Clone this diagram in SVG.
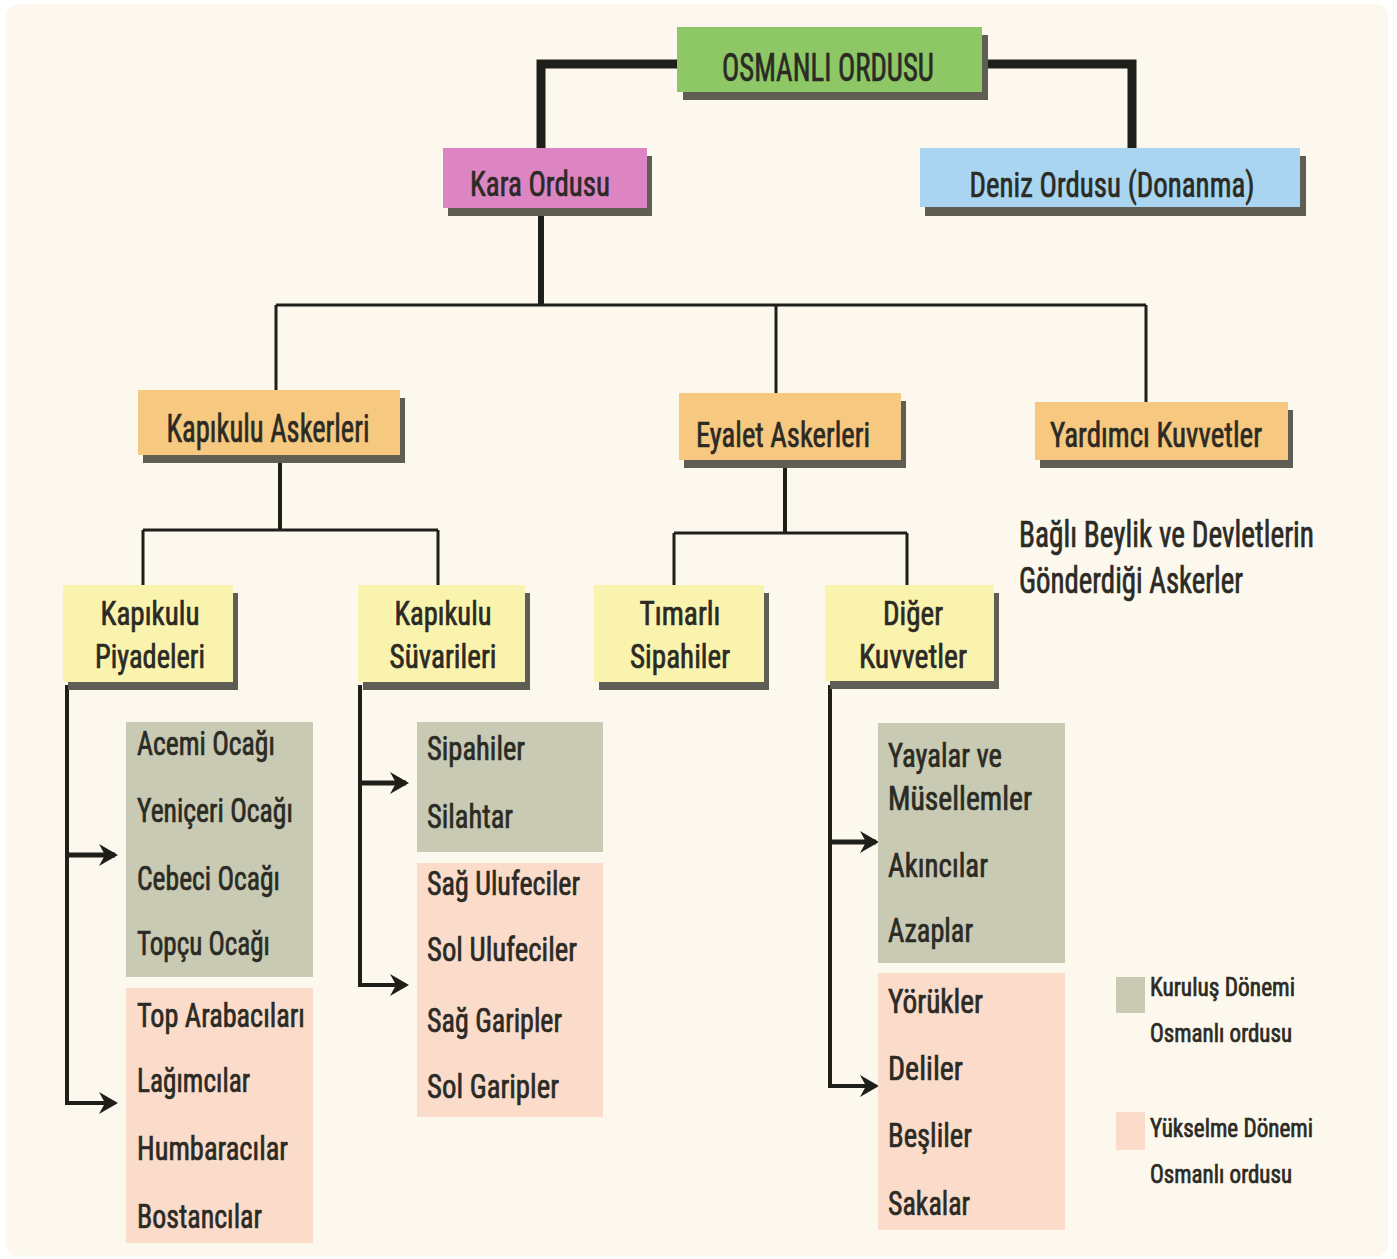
<svg xmlns="http://www.w3.org/2000/svg" width="1397" height="1259" viewBox="0 0 1397 1259">
<style>
text{font-family:"Liberation Sans Narrow","Roboto Condensed","DejaVu Sans Condensed","Liberation Sans",sans-serif;fill:#2b2a24;stroke:#2b2a24;stroke-width:0.7px}
.c{text-anchor:middle}
.t38{font-size:38px}.t35{font-size:35px}.t33{font-size:33px}.t25{font-size:25px}
.sh{fill:#5e5e55}
.green{fill:#8dc766}.pink{fill:#dd85c3}.blue{fill:#a9d5f1}.orange{fill:#f7c880}.yellow{fill:#faf3ae}
.kur{fill:#c8cab3}.yuk{fill:#fbdccb}
.thick{stroke:#1f1f1a;stroke-width:9;fill:none}
.mid{stroke:#1f1f1a;stroke-width:6;fill:none}
.thin{stroke:#1f1f1a;stroke-width:3;fill:none}
.arr{stroke:#1f1f1a;stroke-width:5;fill:none;marker-end:url(#ah)}
.arr2{stroke:#1f1f1a;stroke-width:4;fill:none;marker-end:url(#ah)}
</style>
<defs>
<marker id="ah" markerWidth="22" markerHeight="24" refX="16" refY="12" orient="auto" markerUnits="userSpaceOnUse">
<path d="M0,1 L19,12 L0,23 L6,12 Z" fill="#1f1f1a"/>
</marker>
</defs>
<rect x="0" y="0" width="1397" height="1259" fill="#ffffff"/>
<rect x="6" y="4" width="1382" height="1252" rx="12" fill="#fcf8ee"/>

<g id="connectors">
<path class="thick" d="M680,64 H541 V150"/>
<path class="thick" d="M984,64 H1132 V150"/>
<path class="mid" d="M541,208 V305"/>
<path class="thin" d="M276,305 H1146"/>
<path class="thin" d="M276,305 V392"/>
<path class="thin" d="M776,305 V395"/>
<path class="thin" d="M1146,305 V405"/>
<path class="thin" d="M280,460 V530" style="stroke-width:4"/>
<path class="thin" d="M143,530 H438"/>
<path class="thin" d="M143,530 V587"/>
<path class="thin" d="M438,530 V587"/>
<path class="thin" d="M785,465 V533" style="stroke-width:4"/>
<path class="thin" d="M674,533 H907"/>
<path class="thin" d="M674,533 V587"/>
<path class="thin" d="M907,533 V587"/>
<path class="arr2" d="M67,685 V1103 H115"/>
<path class="arr" d="M67,855 H115"/>
<path class="arr2" d="M360,685 V985 H406"/>
<path class="arr" d="M360,783 H406"/>
<path class="arr2" d="M830,685 V1086 H876"/>
<path class="arr" d="M830,842 H876"/>
</g>

<g id="osmanli-ordusu">
<rect class="sh" x="683" y="35" width="305" height="65"/>
<rect class="green" x="677" y="27" width="305" height="65"/>
<text class="c t38" x="828" y="81" textLength="212" lengthAdjust="spacingAndGlyphs">OSMANLI ORDUSU</text>
</g>
<g id="kara-ordusu">
<rect class="sh" x="448" y="156" width="204" height="60"/>
<rect class="pink" x="443" y="148" width="204" height="60"/>
<text class="c t35" x="540" y="196" textLength="140" lengthAdjust="spacingAndGlyphs">Kara Ordusu</text>
</g>
<g id="deniz-ordusu">
<rect class="sh" x="925" y="156" width="381" height="60"/>
<rect class="blue" x="920" y="148" width="380" height="59"/>
<text class="c t35" x="1112" y="197" textLength="285" lengthAdjust="spacingAndGlyphs">Deniz Ordusu (Donanma)</text>
</g>
<g id="kapikulu-askerleri">
<rect class="sh" x="143" y="398" width="262" height="65"/>
<rect class="orange" x="138" y="390" width="262" height="65"/>
<text class="c t38" x="268" y="442" textLength="203" lengthAdjust="spacingAndGlyphs">Kapıkulu Askerleri</text>
</g>
<g id="eyalet-askerleri">
<rect class="sh" x="684" y="401" width="222" height="67"/>
<rect class="orange" x="679" y="393" width="222" height="67"/>
<text class="c t35" x="783" y="447" textLength="174" lengthAdjust="spacingAndGlyphs">Eyalet Askerleri</text>
</g>
<g id="yardimci-kuvvetler">
<rect class="sh" x="1040" y="410" width="253" height="58"/>
<rect class="orange" x="1035" y="402" width="253" height="58"/>
<text class="c t35" x="1156" y="447" textLength="212" lengthAdjust="spacingAndGlyphs">Yardımcı Kuvvetler</text>
</g>
<g id="bagli-beylik">
<text class="t38" x="1019" y="547" style="font-size:36px" textLength="295" lengthAdjust="spacingAndGlyphs">Bağlı Beylik ve Devletlerin</text>
<text class="t38" x="1019" y="593" style="font-size:36px" textLength="224" lengthAdjust="spacingAndGlyphs">Gönderdiği Askerler</text>
</g>
<g id="kapikulu-piyadeleri">
<rect class="sh" x="68" y="593" width="170" height="97"/>
<rect class="yellow" x="63" y="585" width="170" height="97"/>
<text class="c t33" x="150" y="625" textLength="99" lengthAdjust="spacingAndGlyphs">Kapıkulu</text>
<text class="c t33" x="150" y="668" textLength="110" lengthAdjust="spacingAndGlyphs">Piyadeleri</text>
</g>
<g id="kapikulu-suvarileri">
<rect class="sh" x="363" y="593" width="167" height="97"/>
<rect class="yellow" x="358" y="585" width="167" height="97"/>
<text class="c t33" x="443" y="625" textLength="97" lengthAdjust="spacingAndGlyphs">Kapıkulu</text>
<text class="c t33" x="443" y="668" textLength="107" lengthAdjust="spacingAndGlyphs">Süvarileri</text>
</g>
<g id="timarli-sipahiler">
<rect class="sh" x="599" y="593" width="170" height="97"/>
<rect class="yellow" x="594" y="585" width="170" height="97"/>
<text class="c t33" x="680" y="625" textLength="81" lengthAdjust="spacingAndGlyphs">Tımarlı</text>
<text class="c t33" x="680" y="668" textLength="100" lengthAdjust="spacingAndGlyphs">Sipahiler</text>
</g>
<g id="diger-kuvvetler">
<rect class="sh" x="830" y="593" width="169" height="96"/>
<rect class="yellow" x="825" y="585" width="169" height="96"/>
<text class="c t33" x="913" y="625" textLength="60" lengthAdjust="spacingAndGlyphs">Diğer</text>
<text class="c t33" x="913" y="668" textLength="108" lengthAdjust="spacingAndGlyphs">Kuvvetler</text>
</g>

<g id="piyade-kurulus">
<rect class="kur" x="126" y="722" width="187" height="255"/>
<text class="t33" x="137" y="755" textLength="138" lengthAdjust="spacingAndGlyphs">Acemi Ocağı</text>
<text class="t33" x="137" y="822" textLength="156" lengthAdjust="spacingAndGlyphs">Yeniçeri Ocağı</text>
<text class="t33" x="137" y="890" textLength="143" lengthAdjust="spacingAndGlyphs">Cebeci Ocağı</text>
<text class="t33" x="137" y="955" textLength="133" lengthAdjust="spacingAndGlyphs">Topçu Ocağı</text>
</g>
<g id="piyade-yukselme">
<rect class="yuk" x="126" y="988" width="187" height="255"/>
<text class="t33" x="137" y="1027" textLength="168" lengthAdjust="spacingAndGlyphs">Top Arabacıları</text>
<text class="t33" x="137" y="1092" textLength="113" lengthAdjust="spacingAndGlyphs">Lağımcılar</text>
<text class="t33" x="137" y="1160" textLength="151" lengthAdjust="spacingAndGlyphs">Humbaracılar</text>
<text class="t33" x="137" y="1228" textLength="125" lengthAdjust="spacingAndGlyphs">Bostancılar</text>
</g>
<g id="suvari-kurulus">
<rect class="kur" x="417" y="722" width="186" height="130"/>
<text class="t33" x="427" y="760" textLength="98" lengthAdjust="spacingAndGlyphs">Sipahiler</text>
<text class="t33" x="427" y="828" textLength="86" lengthAdjust="spacingAndGlyphs">Silahtar</text>
</g>
<g id="suvari-yukselme">
<rect class="yuk" x="417" y="863" width="186" height="254"/>
<text class="t33" x="427" y="895" textLength="153" lengthAdjust="spacingAndGlyphs">Sağ Ulufeciler</text>
<text class="t33" x="427" y="961" textLength="150" lengthAdjust="spacingAndGlyphs">Sol Ulufeciler</text>
<text class="t33" x="427" y="1032" textLength="135" lengthAdjust="spacingAndGlyphs">Sağ Garipler</text>
<text class="t33" x="427" y="1098" textLength="132" lengthAdjust="spacingAndGlyphs">Sol Garipler</text>
</g>
<g id="diger-kurulus">
<rect class="kur" x="878" y="723" width="187" height="240"/>
<text class="t33" x="888" y="767" textLength="114" lengthAdjust="spacingAndGlyphs">Yayalar ve</text>
<text class="t33" x="888" y="810" textLength="144" lengthAdjust="spacingAndGlyphs">Müsellemler</text>
<text class="t33" x="888" y="877" textLength="100" lengthAdjust="spacingAndGlyphs">Akıncılar</text>
<text class="t33" x="888" y="942" textLength="85" lengthAdjust="spacingAndGlyphs">Azaplar</text>
</g>
<g id="diger-yukselme">
<rect class="yuk" x="878" y="973" width="187" height="257"/>
<text class="t33" x="888" y="1013" textLength="95" lengthAdjust="spacingAndGlyphs">Yörükler</text>
<text class="t33" x="888" y="1080" textLength="75" lengthAdjust="spacingAndGlyphs">Deliler</text>
<text class="t33" x="888" y="1147" textLength="84" lengthAdjust="spacingAndGlyphs">Beşliler</text>
<text class="t33" x="888" y="1215" textLength="82" lengthAdjust="spacingAndGlyphs">Sakalar</text>
</g>

<g id="legend">
<rect class="kur" x="1116" y="977" width="29" height="36"/>
<text class="t25" x="1150" y="996" textLength="145" lengthAdjust="spacingAndGlyphs">Kuruluş Dönemi</text>
<text class="t25" x="1150" y="1042" textLength="142" lengthAdjust="spacingAndGlyphs">Osmanlı ordusu</text>
<rect class="yuk" x="1116" y="1112" width="29" height="38"/>
<text class="t25" x="1150" y="1137" textLength="163" lengthAdjust="spacingAndGlyphs">Yükselme Dönemi</text>
<text class="t25" x="1150" y="1183" textLength="142" lengthAdjust="spacingAndGlyphs">Osmanlı ordusu</text>
</g>
</svg>
